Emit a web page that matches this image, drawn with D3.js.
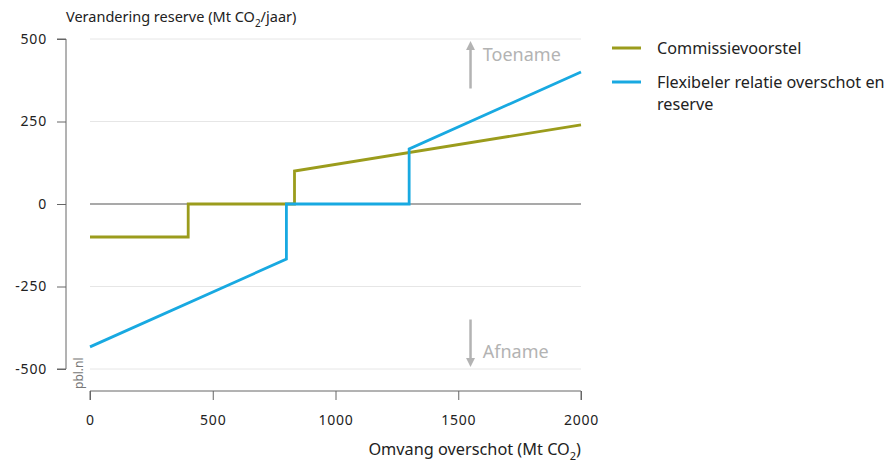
<!DOCTYPE html>
<html>
<head>
<meta charset="utf-8">
<title>Verandering reserve</title>
<script src="https://d3js.org/d3.v7.min.js"></script>
<style>
  body { margin: 0; background: #fff; font-family: "Noto Sans", sans-serif; }
  text { fill: #222; }
</style>
</head>
<body>
<div id="chart"></div>
<script>
// Data
const xTicks = [0, 500, 1000, 1500, 2000];
const yTicks = [-500, -250, 0, 250, 500];
const seriesNames = ["Commissievoorstel", "Flexibeler relatie overschot en reserve"];
const seriesColors = ["#9b9c1c", "#18a9e1"];
// overschot (Mt CO2) vs verandering reserve (Mt CO2/jaar)
const commissieX = [0, 400, 400, 833, 833, 2000];
const commissieY = [-100, -100, 0, 0, 100, 240];
const flexX = [0, 800, 800, 1300, 1300, 2000];
const flexY = [-433, -167, 0, 0, 167, 400];

const width = 887, height = 466;
const svg = d3.select("#chart").append("svg")
  .attr("width", width).attr("height", height);

const x = d3.scaleLinear().domain([0, 2000]).range([90, 581]);
const y = d3.scaleLinear().domain([-500, 500]).range([369, 39]);

// gridlines
svg.append("g").selectAll("line")
  .data(yTicks.filter(d => d !== 0))
  .join("line")
  .attr("x1", x(0)).attr("x2", x(2000))
  .attr("y1", d => y(d)).attr("y2", d => y(d))
  .attr("stroke", "#e6e6e6").attr("stroke-width", 1);

// zero line
svg.append("line")
  .attr("x1", x(0)).attr("x2", x(2000))
  .attr("y1", y(0)).attr("y2", y(0))
  .attr("stroke", "#555").attr("stroke-width", 1.2);

// y axis
const yAxis = svg.append("g").attr("transform", "translate(66,0)")
  .call(d3.axisLeft(y).tickValues(yTicks).tickSize(9).tickPadding(10).tickFormat(d => String(d)));
yAxis.select(".domain").attr("stroke", "#666").attr("d", `M-9,${y(500)}H0V${y(-500)}H-9`);
yAxis.selectAll(".tick line").attr("stroke", "#666");
yAxis.selectAll(".tick text").attr("font-size", 14).attr("font-family", "Noto Sans")
  .attr("letter-spacing", 0.8).attr("fill", "#222");

// x axis
const xAxis = svg.append("g").attr("transform", "translate(0,391)")
  .call(d3.axisBottom(x).tickValues(xTicks).tickSize(9).tickPadding(15).tickFormat(d => String(d)));
xAxis.select(".domain").attr("stroke", "#666").attr("d", `M${x(0)},9V0H${x(2000)}V9`);
xAxis.selectAll(".tick line").attr("stroke", "#666");
xAxis.selectAll(".tick text").attr("font-size", 14).attr("font-family", "Noto Sans")
  .attr("letter-spacing", 0.8).attr("fill", "#222");

// axis titles
const yTitle = svg.append("text").attr("x", 66).attr("y", 22).attr("font-size", 14.5);
yTitle.append("tspan").text("Verandering reserve (Mt CO");
yTitle.append("tspan").text("2").attr("font-size", 10).attr("dy", 5);
yTitle.append("tspan").text("/jaar)").attr("dy", -5);

const xTitle = svg.append("text").attr("x", 581).attr("y", 455)
  .attr("text-anchor", "end").attr("font-size", 16.3);
xTitle.append("tspan").text("Omvang overschot (Mt CO");
xTitle.append("tspan").text("2").attr("font-size", 11).attr("dy", 5);
xTitle.append("tspan").text(")").attr("dy", -5);

// pbl.nl
svg.append("text").attr("transform", "translate(83,389) rotate(-90)")
  .attr("font-size", 12).style("fill", "#777").text("pbl.nl");

// arrows Toename / Afname
const grey = "#b3b3b3";
const defs = svg.append("defs");
defs.append("marker").attr("id", "arr").attr("viewBox", "0 0 10 10")
  .attr("refX", 5).attr("refY", 5).attr("markerWidth", 3.6).attr("markerHeight", 5)
  .attr("orient", "auto-start-reverse").attr("markerUnits", "strokeWidth")
  .append("path").attr("d", "M0,0L10,5L0,10Z").attr("fill", grey);
svg.append("line").attr("x1", x(1550)).attr("x2", x(1550))
  .attr("y1", y(350)).attr("y2", y(480))
  .attr("stroke", grey).attr("stroke-width", 2.5).attr("marker-end", "url(#arr)");
svg.append("line").attr("x1", x(1550)).attr("x2", x(1550))
  .attr("y1", y(-350)).attr("y2", y(-480))
  .attr("stroke", grey).attr("stroke-width", 2.5).attr("marker-end", "url(#arr)");
svg.append("text").attr("x", x(1600)).attr("y", 61).attr("font-size", 18)
  .style("fill", grey).text("Toename");
svg.append("text").attr("x", x(1600)).attr("y", 358).attr("font-size", 18)
  .style("fill", grey).text("Afname");

// series lines
const line = d3.line().x(d => x(d[0])).y(d => y(d[1]));
const series = [
  d3.zip(commissieX, commissieY),
  d3.zip(flexX, flexY)
];
svg.append("g").selectAll("path")
  .data(series)
  .join("path")
  .attr("d", line)
  .attr("fill", "none")
  .attr("stroke", (d, i) => seriesColors[i])
  .attr("stroke-width", 2.8)
  .attr("stroke-linejoin", "miter");

// legend
const legend = svg.append("g").attr("transform", "translate(612,48)");
const legY = [0, 34];
seriesNames.forEach((name, i) => {
  const g = legend.append("g").attr("transform", `translate(0,${legY[i]})`);
  g.append("line").attr("x1", 0).attr("x2", 29).attr("y1", 0).attr("y2", 0)
    .attr("stroke", seriesColors[i]).attr("stroke-width", 3);
  const t = g.append("text").attr("x", 45).attr("y", 6).attr("font-size", 16.2);
  if (i === 1) {
    t.append("tspan").attr("x", 45).text("Flexibeler relatie overschot en");
    t.append("tspan").attr("x", 45).attr("dy", 22).text("reserve");
  } else {
    t.text(name);
  }
});
</script>
</body>
</html>
